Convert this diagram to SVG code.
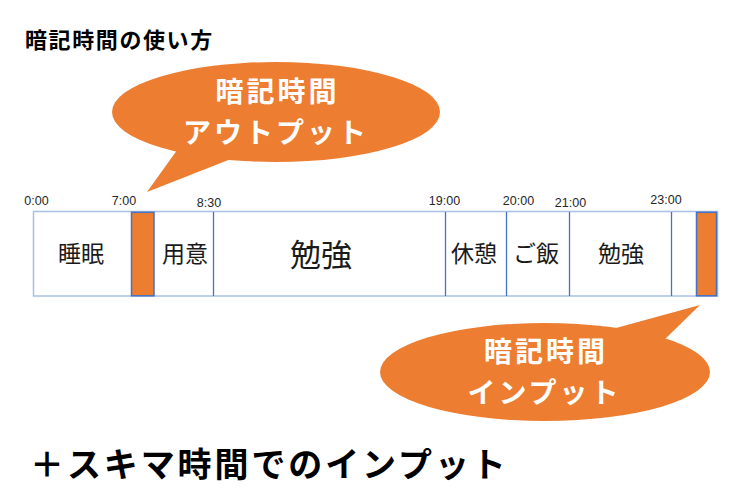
<svg xmlns="http://www.w3.org/2000/svg" width="750" height="500" viewBox="0 0 750 500">
<style>
.jp{font-family:"Noto Sans CJK JP","Noto Sans",sans-serif;}
.time{font-family:"Liberation Sans","DejaVu Sans",sans-serif;font-size:12.5px;fill:#262626;text-anchor:middle;}
.lbl{font-family:"Noto Sans CJK JP",sans-serif;font-size:23px;fill:#1a1a1a;text-anchor:middle;}
.big{font-size:31px;}
.bub{fill:#ed7d31;}
.btxt{font-family:"Noto Sans CJK JP",sans-serif;font-size:28px;font-weight:bold;fill:#ffffff;text-anchor:middle;letter-spacing:3px;}
.div{stroke:#4472c4;stroke-width:1.3;}
.blk{fill:#ed7d31;stroke:#4472c4;stroke-width:1.5;}
</style>
<rect width="750" height="500" fill="#ffffff"/>
<text class="jp" x="25" y="48" font-size="22" font-weight="bold" fill="#000" letter-spacing="1.6">暗記時間の使い方</text>

<g id="timeline">
<rect x="33.5" y="211.5" width="684" height="84.5" fill="#ffffff" stroke="#a9c0e4" stroke-width="1.5"/>
</g>
<g id="connectors">
<line class="div" x1="213.5" y1="212" x2="213.5" y2="296"/>
<line class="div" x1="445.5" y1="212" x2="445.5" y2="296"/>
<line class="div" x1="506.5" y1="212" x2="506.5" y2="296"/>
<line class="div" x1="569.5" y1="212" x2="569.5" y2="296"/>
<line class="div" x1="671.5" y1="212" x2="671.5" y2="296"/>
</g>
<g id="block-output"><rect class="blk" x="131.5" y="212.3" width="22.5" height="83.5"/></g>
<g id="block-input"><rect class="blk" x="696.5" y="212.3" width="20" height="83.5"/></g>

<g id="times">
<text class="time" x="36.5" y="205">0:00</text>
<text class="time" x="124" y="205">7:00</text>
<text class="time" x="209" y="207">8:30</text>
<text class="time" x="444.5" y="205">19:00</text>
<text class="time" x="518.5" y="205">20:00</text>
<text class="time" x="570.5" y="207">21:00</text>
<text class="time" x="666" y="204">23:00</text>
</g>

<g id="seg-sleep"><text class="lbl" x="81" y="262">睡眠</text></g>
<g id="seg-prep"><text class="lbl" x="185" y="262">用意</text></g>
<g id="seg-study1"><text class="lbl big" x="321" y="266">勉強</text></g>
<g id="seg-rest"><text class="lbl" x="474" y="262">休憩</text></g>
<g id="seg-meal"><text class="lbl" x="536" y="262">ご飯</text></g>
<g id="seg-study2"><text class="lbl" x="621" y="262">勉強</text></g>

<g id="bubble-output">
<ellipse class="bub" cx="276" cy="112" rx="164" ry="50"/>
<polygon class="bub" points="180,146 147,192 236,157"/>
<text class="btxt" x="277.5" y="102">暗記時間</text>
<text class="btxt" x="276" y="142.5">アウトプット</text>
</g>

<g id="bubble-input">
<ellipse class="bub" cx="545" cy="372" rx="165" ry="49"/>
<polygon class="bub" points="605,331 700,305 662,342"/>
<text class="btxt" x="546" y="362">暗記時間</text>
<text class="btxt" x="544.5" y="402.5">インプット</text>
</g>

<text class="jp" x="30" y="477" font-size="34" font-weight="bold" fill="#000" letter-spacing="2.9">＋スキマ時間でのインプット</text>
</svg>
